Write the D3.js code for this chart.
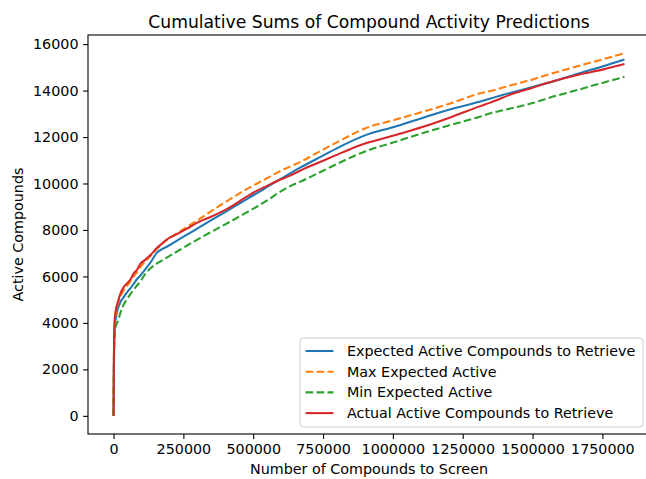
<!DOCTYPE html>
<html><head><meta charset="utf-8">
<script src="https://cdn.jsdelivr.net/npm/d3@7"></script>
<style>
body{margin:0;background:#fff;}
text{font-family:"DejaVu Sans",sans-serif;fill:#000;}
</style></head>
<body>
<svg id="chart" width="646" height="479"></svg>
<script>
const screened = [0,1500,4000,8000,15000,25000,37000,50000,61000,73000,85000,97000,110000,132000,156000,170000,192000,220000,263000,311000,347000,395000,430000,480000,514000,550000,586000,634000,669000,750000,820000,900000,1000000,1111000,1200000,1313000,1349000,1433000,1500000,1552000,1671000,1750000,1829000];
const expectedActive = [0,2500,3800,4200,4600,4900,5120,5350,5500,5700,5900,6050,6250,6600,7030,7150,7290,7490,7800,8140,8400,8740,8990,9350,9590,9850,10110,10450,10690,11200,11640,12070,12420,12840,13170,13530,13660,13940,14150,14320,14760,15040,15340];
const maxExpected = [0,2600,3900,4400,4800,5150,5420,5620,5800,6020,6200,6420,6600,6880,7200,7360,7580,7800,8130,8500,8790,9160,9420,9780,10000,10230,10470,10740,10930,11460,11900,12370,12720,13100,13420,13880,13980,14260,14480,14670,15080,15340,15610];
const minExpected = [0,2200,3500,3850,4050,4450,4800,5050,5250,5450,5620,5800,6050,6350,6560,6660,6820,7020,7330,7660,7900,8210,8440,8780,9010,9270,9560,9900,10080,10550,10960,11380,11760,12180,12500,12880,13020,13260,13460,13660,14060,14330,14590];
const actualActive = [0,2800,4100,4550,4880,5270,5550,5720,5880,6140,6300,6560,6680,6920,7230,7380,7600,7780,8060,8380,8560,8830,9070,9460,9690,9900,10110,10350,10560,10980,11340,11720,12050,12450,12820,13330,13480,13880,14120,14320,14700,14900,15140];
const xTicks = [0,250000,500000,750000,1000000,1250000,1500000,1750000];
const yTicks = [0,2000,4000,6000,8000,10000,12000,14000,16000];
const seriesNames = ["Expected Active Compounds to Retrieve","Max Expected Active","Min Expected Active","Actual Active Compounds to Retrieve"];
const seriesColors = ["#1f77b4","#ff7f0e","#2ca02c","#d62728"];
const seriesDash = [null,"7.7,3.3","7.7,3.3",null];
const seriesValues = [expectedActive,maxExpected,minExpected,actualActive];

const svg = d3.select("#chart");
const L=88,R=650,T=35,B=434;
const xMax = d3.max(screened), yMax = d3.max(seriesValues.flat()), yMin = 0;
const xs = d3.scaleLinear().domain([-0.05*xMax, 1.05*xMax]).range([L,R]);
const ys = d3.scaleLinear().domain([yMin-0.05*(yMax-yMin), yMax+0.05*(yMax-yMin)]).range([B,T]);

svg.append("clipPath").attr("id","clip").append("rect").attr("x",L).attr("y",T).attr("width",R-L).attr("height",B-T);

const line = d3.line().x(d=>xs(d[0])).y(d=>ys(d[1])).curve(d3.curveMonotoneX);
const g = svg.append("g").attr("clip-path","url(#clip)");
seriesValues.forEach((vals,i)=>{
  g.append("path").datum(screened.map((x,j)=>[x,vals[j]]))
   .attr("d",line).attr("fill","none").attr("stroke",seriesColors[i])
   .attr("stroke-width",2.08).attr("stroke-dasharray",seriesDash[i]);
});

const FS="14.3px";
const xAxis = d3.axisBottom(xs).tickValues(xTicks).tickFormat(d3.format("d")).tickSize(4.9).tickPadding(4.6);
const yAxis = d3.axisLeft(ys).tickValues(yTicks).tickFormat(d3.format("d")).tickSize(4.9).tickPadding(4.6);
const gx = svg.append("g").attr("transform",`translate(0,${B})`).call(xAxis);
const gy = svg.append("g").attr("transform",`translate(${L},0)`).call(yAxis);
[gx,gy].forEach(a=>{
  a.select(".domain").remove();
  a.selectAll("line").attr("stroke","#000").attr("stroke-width",1.1);
  a.selectAll("text").style("font-size",FS).style("font-family","'DejaVu Sans'");
});
svg.append("rect").attr("x",L).attr("y",T).attr("width",R-L).attr("height",B-T)
  .attr("fill","none").attr("stroke","#000").attr("stroke-width",1.1);

svg.append("text").attr("x",(L+R)/2).attr("y",28).attr("text-anchor","middle")
  .style("font-size","17.2px").text("Cumulative Sums of Compound Activity Predictions");
svg.append("text").attr("x",(L+R)/2).attr("y",474).attr("text-anchor","middle")
  .style("font-size",FS).text("Number of Compounds to Screen");
svg.append("text").attr("transform",`translate(23,${(T+B)/2}) rotate(-90)`).attr("text-anchor","middle")
  .style("font-size",FS).text("Active Compounds");

const lg = svg.append("g");
const lx0=300, ly0=338, lw=343, lh=89;
lg.append("rect").attr("x",lx0).attr("y",ly0).attr("width",lw).attr("height",lh).attr("rx",3)
  .attr("fill","rgba(255,255,255,0.8)").attr("stroke","#cccccc").attr("stroke-width",1);
seriesNames.forEach((n,i)=>{
  const yy = ly0+13+i*20.7;
  lg.append("line").attr("x1",lx0+5.5).attr("x2",lx0+33.5).attr("y1",yy).attr("y2",yy)
    .attr("stroke",seriesColors[i]).attr("stroke-width",2.08).attr("stroke-dasharray",seriesDash[i]);
  lg.append("text").attr("x",lx0+47).attr("y",yy+5).style("font-size",FS).text(n);
});
</script>
</body></html>
